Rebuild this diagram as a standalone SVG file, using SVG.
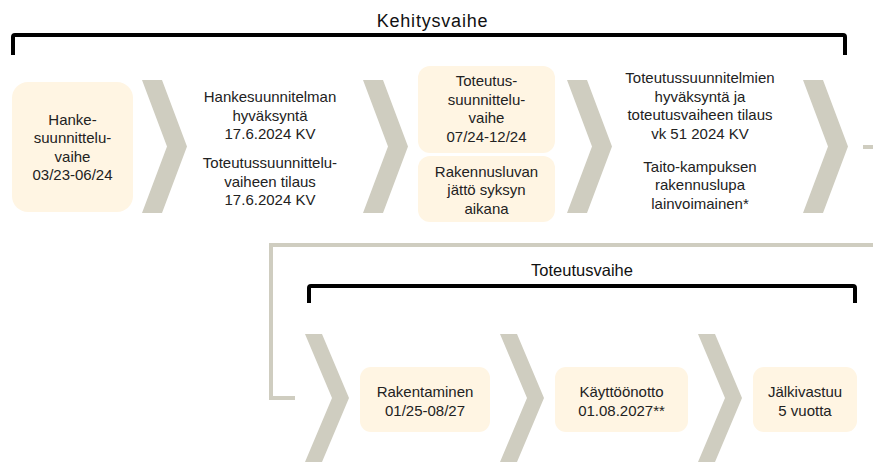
<svg xmlns="http://www.w3.org/2000/svg" width="873" height="465" viewBox="0 0 873 465">
<style>
.box{fill:#FFF5E3;}
.chev{fill:#CFCDC0;}
.br{fill:none;stroke:#000;stroke-width:4;stroke-linejoin:round;}
.con{fill:none;stroke:#CFCDC0;stroke-width:4;}
text{font-family:"Liberation Sans",Arial,sans-serif;fill:#222;text-anchor:middle;}
.t{font-size:15px;}
.h{font-size:16.5px;fill:#111;}
.k{font-size:18px;letter-spacing:0.8px;fill:#111;}
</style>
<rect width="873" height="465" fill="#fff"/>
<g id="connectors">
<path class="con" d="M873,245 H271 V398 H295"/>
<path class="con" d="M863,147 H873"/>
</g>
<g id="kehitysvaihe">
<path class="br" d="M13,55 V37 Q13,35 15,35 H843 Q845,35 845,37 V55"/>
<text class="k" x="432.5" y="27">Kehitysvaihe</text>
</g>
<g id="toteutusvaihe">
<path class="br" d="M309,303 V288 Q309,286 311,286 H853 Q855,286 855,288 V303"/>
<text class="h" x="582" y="276">Toteutusvaihe</text>
</g>
<g id="chevrons">
<polygon class="chev" points="142,80 162,80 187,146.5 162,213 142,213 167,146.5"/>
<polygon class="chev" points="363,80 383,80 408,146.5 383,213 363,213 388,146.5"/>
<polygon class="chev" points="567,80 587,80 612,146.5 587,213 567,213 592,146.5"/>
<polygon class="chev" points="803,80 823,80 848,146.5 823,213 803,213 828,146.5"/>
<polygon class="chev" points="305,334 322,334 349,398 322,462 305,462 332,398"/>
<polygon class="chev" points="500,334 517,334 544,398 517,462 500,462 527,398"/>
<polygon class="chev" points="698,334 715,334 742,398 715,462 698,462 725,398"/>
</g>
<g id="hankesuunnitteluvaihe">
<rect class="box" x="12" y="82" width="121" height="130" rx="16"/>
<text class="t" x="72.5" y="124.5">Hanke-</text>
<text class="t" x="72.5" y="143">suunnittelu-</text>
<text class="t" x="72.5" y="161.5">vaihe</text>
<text class="t" x="72.5" y="180">03/23-06/24</text>
</g>
<g id="hyvaksynta1">
<text class="t" x="270" y="102">Hankesuunnitelman</text>
<text class="t" x="270" y="120.5">hyväksyntä</text>
<text class="t" x="270" y="139">17.6.2024 KV</text>
<text class="t" x="270" y="168">Toteutussuunnittelu-</text>
<text class="t" x="270" y="186.5">vaiheen tilaus</text>
<text class="t" x="270" y="205">17.6.2024 KV</text>
</g>
<g id="toteutussuunnitteluvaihe">
<rect class="box" x="418" y="66" width="137" height="87" rx="12"/>
<text class="t" x="486.5" y="86">Toteutus-</text>
<text class="t" x="486.5" y="104.5">suunnittelu-</text>
<text class="t" x="486.5" y="123">vaihe</text>
<text class="t" x="486.5" y="141.5">07/24-12/24</text>
</g>
<g id="rakennuslupa">
<rect class="box" x="418" y="156" width="137" height="66" rx="12"/>
<text class="t" x="486.5" y="176.5">Rakennusluvan</text>
<text class="t" x="486.5" y="195">jättö syksyn</text>
<text class="t" x="486.5" y="213.5">aikana</text>
</g>
<g id="hyvaksynta2">
<text class="t" x="700" y="83">Toteutussuunnitelmien</text>
<text class="t" x="700" y="101.5">hyväksyntä ja</text>
<text class="t" x="700" y="120">toteutusvaiheen tilaus</text>
<text class="t" x="700" y="138.5">vk 51 2024 KV</text>
<text class="t" x="700" y="171.5">Taito-kampuksen</text>
<text class="t" x="700" y="190">rakennuslupa</text>
<text class="t" x="700" y="208.5">lainvoimainen*</text>
</g>
<g id="rakentaminen">
<rect class="box" x="360" y="367" width="130" height="65" rx="11"/>
<text class="t" x="425" y="397">Rakentaminen</text>
<text class="t" x="425" y="415.5">01/25-08/27</text>
</g>
<g id="kayttoonotto">
<rect class="box" x="555" y="367" width="133" height="65" rx="11"/>
<text class="t" x="621.5" y="397">Käyttöönotto</text>
<text class="t" x="621.5" y="415.5">01.08.2027**</text>
</g>
<g id="jalkivastuu">
<rect class="box" x="753" y="367" width="104" height="65" rx="11"/>
<text class="t" x="805" y="397">Jälkivastuu</text>
<text class="t" x="805" y="415.5">5 vuotta</text>
</g>
</svg>
